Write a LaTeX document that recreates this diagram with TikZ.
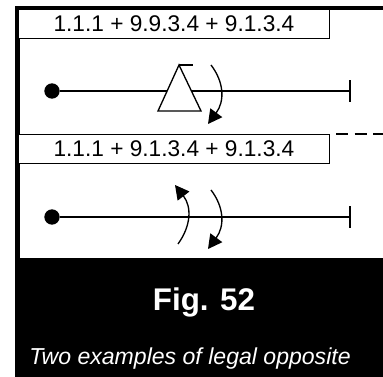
\documentclass[tikz,border=0pt]{standalone}
\usepackage{fontspec}
\setmainfont{Liberation Sans}
\usetikzlibrary{arrows.meta,calc,positioning}

\begin{document}
\begin{tikzpicture}[
      x=0.75pt, y=-0.75pt,
      >={Triangle[length=10.5pt,width=11pt]},
      every node/.style={align=center},
      movebox/.style={rectangle, draw, line width=0.9pt, fill=white, font=\fontsize{17}{20}\selectfont,
            minimum width=233pt, minimum height=21.4pt, inner sep=0pt},
      startdot/.style={circle, fill=black, minimum size=11.5pt, inner sep=0pt},
      endtick/.style={rectangle, fill=black, minimum width=1pt, minimum height=16pt, inner sep=0pt},
      line/.style={line width=1pt},
      turn/.style={->, line width=1pt}
]
\useasboundingbox (0,0) rectangle (383,377);
% frame and caption band
\fill (15,6) rectangle (383,10);
\fill (15,6) rectangle (20,258);
\fill (15,258) rectangle (383,377);
\node[text=white, font=\fontsize{23.5}{28}\selectfont\bfseries] (fig) at (204,302) {Fig. 52};
\node[text=white, font=\fontsize{17.3}{20}\selectfont\itshape] (caption) at (190,359) {Two examples of legal opposite};

% first example
\node[movebox, anchor=north west] (boxone) at (18,9) {1.1.1 + 9.9.3.4 + 9.1.3.4};
\node[startdot] (startone) at (52,91) {};
\node[endtick] (endone) at (350,91) {};
\draw[line] (startone) -- (endone);
\coordinate (apex) at (179,65);
\coordinate (baseleft) at (158,111);
\coordinate (baseright) at (201,111);
\coordinate (flag) at (193,65);
\draw[line, fill=white] (apex) -- (baseleft) -- (baseright) -- cycle;
\draw[line] (apex) -- (flag);
\draw[turn] (211,65) .. controls (224,82) and (225,101) .. (208,124);

% dashed separator
\coordinate (dashstart) at (336,134);
\coordinate (dashend) at (383,134);
\draw[line, dash pattern=on 9pt off 5pt] (dashstart) -- (dashend);

% second example
\node[movebox, anchor=north west] (boxtwo) at (18,134) {1.1.1 + 9.1.3.4 + 9.1.3.4};
\node[startdot] (starttwo) at (52,217) {};
\node[endtick] (endtwo) at (350,217) {};
\draw[line] (starttwo) -- (endtwo);
\draw[turn] (211,190) .. controls (224,207) and (225,226) .. (208,249);
\draw[turn] (178,244) .. controls (191,226) and (192,207) .. (175,185);
\end{tikzpicture}
\end{document}
